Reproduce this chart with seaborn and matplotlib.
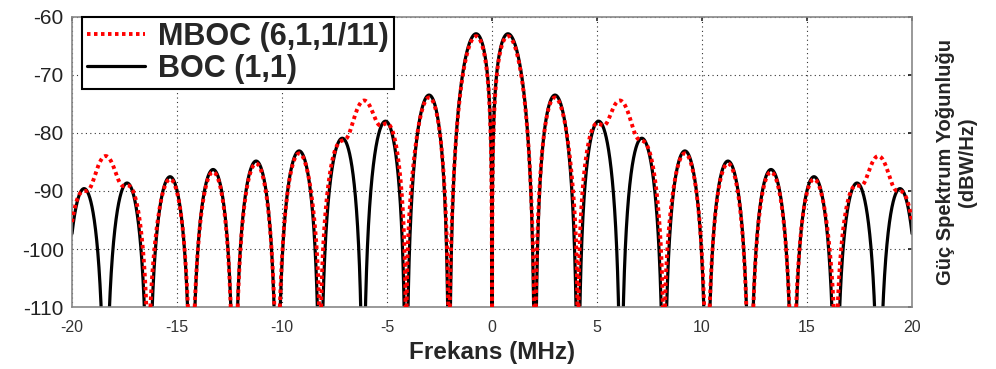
import numpy as np
import pandas as pd
import matplotlib
matplotlib.use("Agg")
import matplotlib.pyplot as plt
import seaborn as sns

# modulation parameters (BOC(m,n): fs = m*1.023 MHz, fc = n*1.023 MHz)
ref_rate = 1.023e6
boc11_m, boc11_n = 1, 1
boc61_m, boc61_n = 6, 1
mboc_weights = [10 / 11, 1 / 11]   # BOC(1,1), BOC(6,1)
series_labels = ["MBOC (6,1,1/11)", "BOC (1,1)"]
x_ticks = [-20, -15, -10, -5, 0, 5, 10, 15, 20]
y_ticks = [-110, -100, -90, -80, -70, -60]


def boc_psd(f, m, n):
    # sine-phased BOC spectrum, even ratio 2m/n
    fs = m * ref_rate
    fc = n * ref_rate
    num = np.sin(np.pi * f / fc) * np.sin(np.pi * f / (2 * fs))
    den = np.pi * f * np.cos(np.pi * f / (2 * fs))
    return fc * (num / den) ** 2


freq_mhz = np.linspace(-20, 20, 16001) + 1.234e-5
f_hz = freq_mhz * 1e6
g11 = boc_psd(f_hz, boc11_m, boc11_n)
g61 = boc_psd(f_hz, boc61_m, boc61_n)
gm = mboc_weights[0] * g11 + mboc_weights[1] * g61

df = pd.DataFrame({
    "f": freq_mhz,
    "boc": 10 * np.log10(g11 + 1e-30),
    "mboc": 10 * np.log10(gm + 1e-30),
})

sns.set_theme(style="white")
plt.rcParams["font.family"] = ["Liberation Sans", "DejaVu Sans"]
plt.rcParams["axes.unicode_minus"] = False

fig = plt.figure(figsize=(9.96, 3.69), dpi=100)
ax = fig.add_axes([0.0723, 0.168, 0.8434, 0.786])

sns.lineplot(data=df, x="f", y="boc", ax=ax, color="black", linewidth=2.3,
             label=series_labels[1], zorder=2, estimator=None)
sns.lineplot(data=df, x="f", y="mboc", ax=ax, color="red", linewidth=2.8,
             linestyle=(0, (0.9, 0.9)), label=series_labels[0], zorder=3, estimator=None)

ax.set_xlim(-20, 20)
ax.set_ylim(-110, -60)
ax.set_xticks(x_ticks)
ax.set_yticks(y_ticks)
ax.grid(True, color="black", linestyle=(0, (1, 3)), linewidth=0.8, alpha=0.8)
ax.tick_params(axis="x", labelsize=11.5, colors="#333333", direction="in",
               top=True, length=3, pad=9)
ax.tick_params(axis="y", labelsize=15, colors="#222222", direction="in",
               right=True, length=3, pad=6)
for s in ax.spines.values():
    s.set_color("#888888")
    s.set_linewidth(1.2)

ax.set_xlabel("Frekans (MHz)", fontsize=17.5, fontweight="bold", labelpad=5)
ax.yaxis.set_label_position("right")
ax.set_ylabel("Güç Spektrum Yoğunluğu\n(dBW/Hz)", fontsize=14.5,
              fontweight="bold", labelpad=17, rotation=90)

handles, labels = ax.get_legend_handles_labels()
order = [labels.index(series_labels[0]), labels.index(series_labels[1])]
leg = ax.legend([handles[i] for i in order], [labels[i] for i in order],
                loc="upper left", bbox_to_anchor=(0.012, 1.0), fancybox=False,
                framealpha=1, edgecolor="black", handlelength=1.9,
                borderaxespad=0, prop={"size": 22, "weight": "bold"},
                labelspacing=0.08, borderpad=0.15, handletextpad=0.45)
leg.get_frame().set_linewidth(1.5)

fig.savefig("out.png", dpi=100)
